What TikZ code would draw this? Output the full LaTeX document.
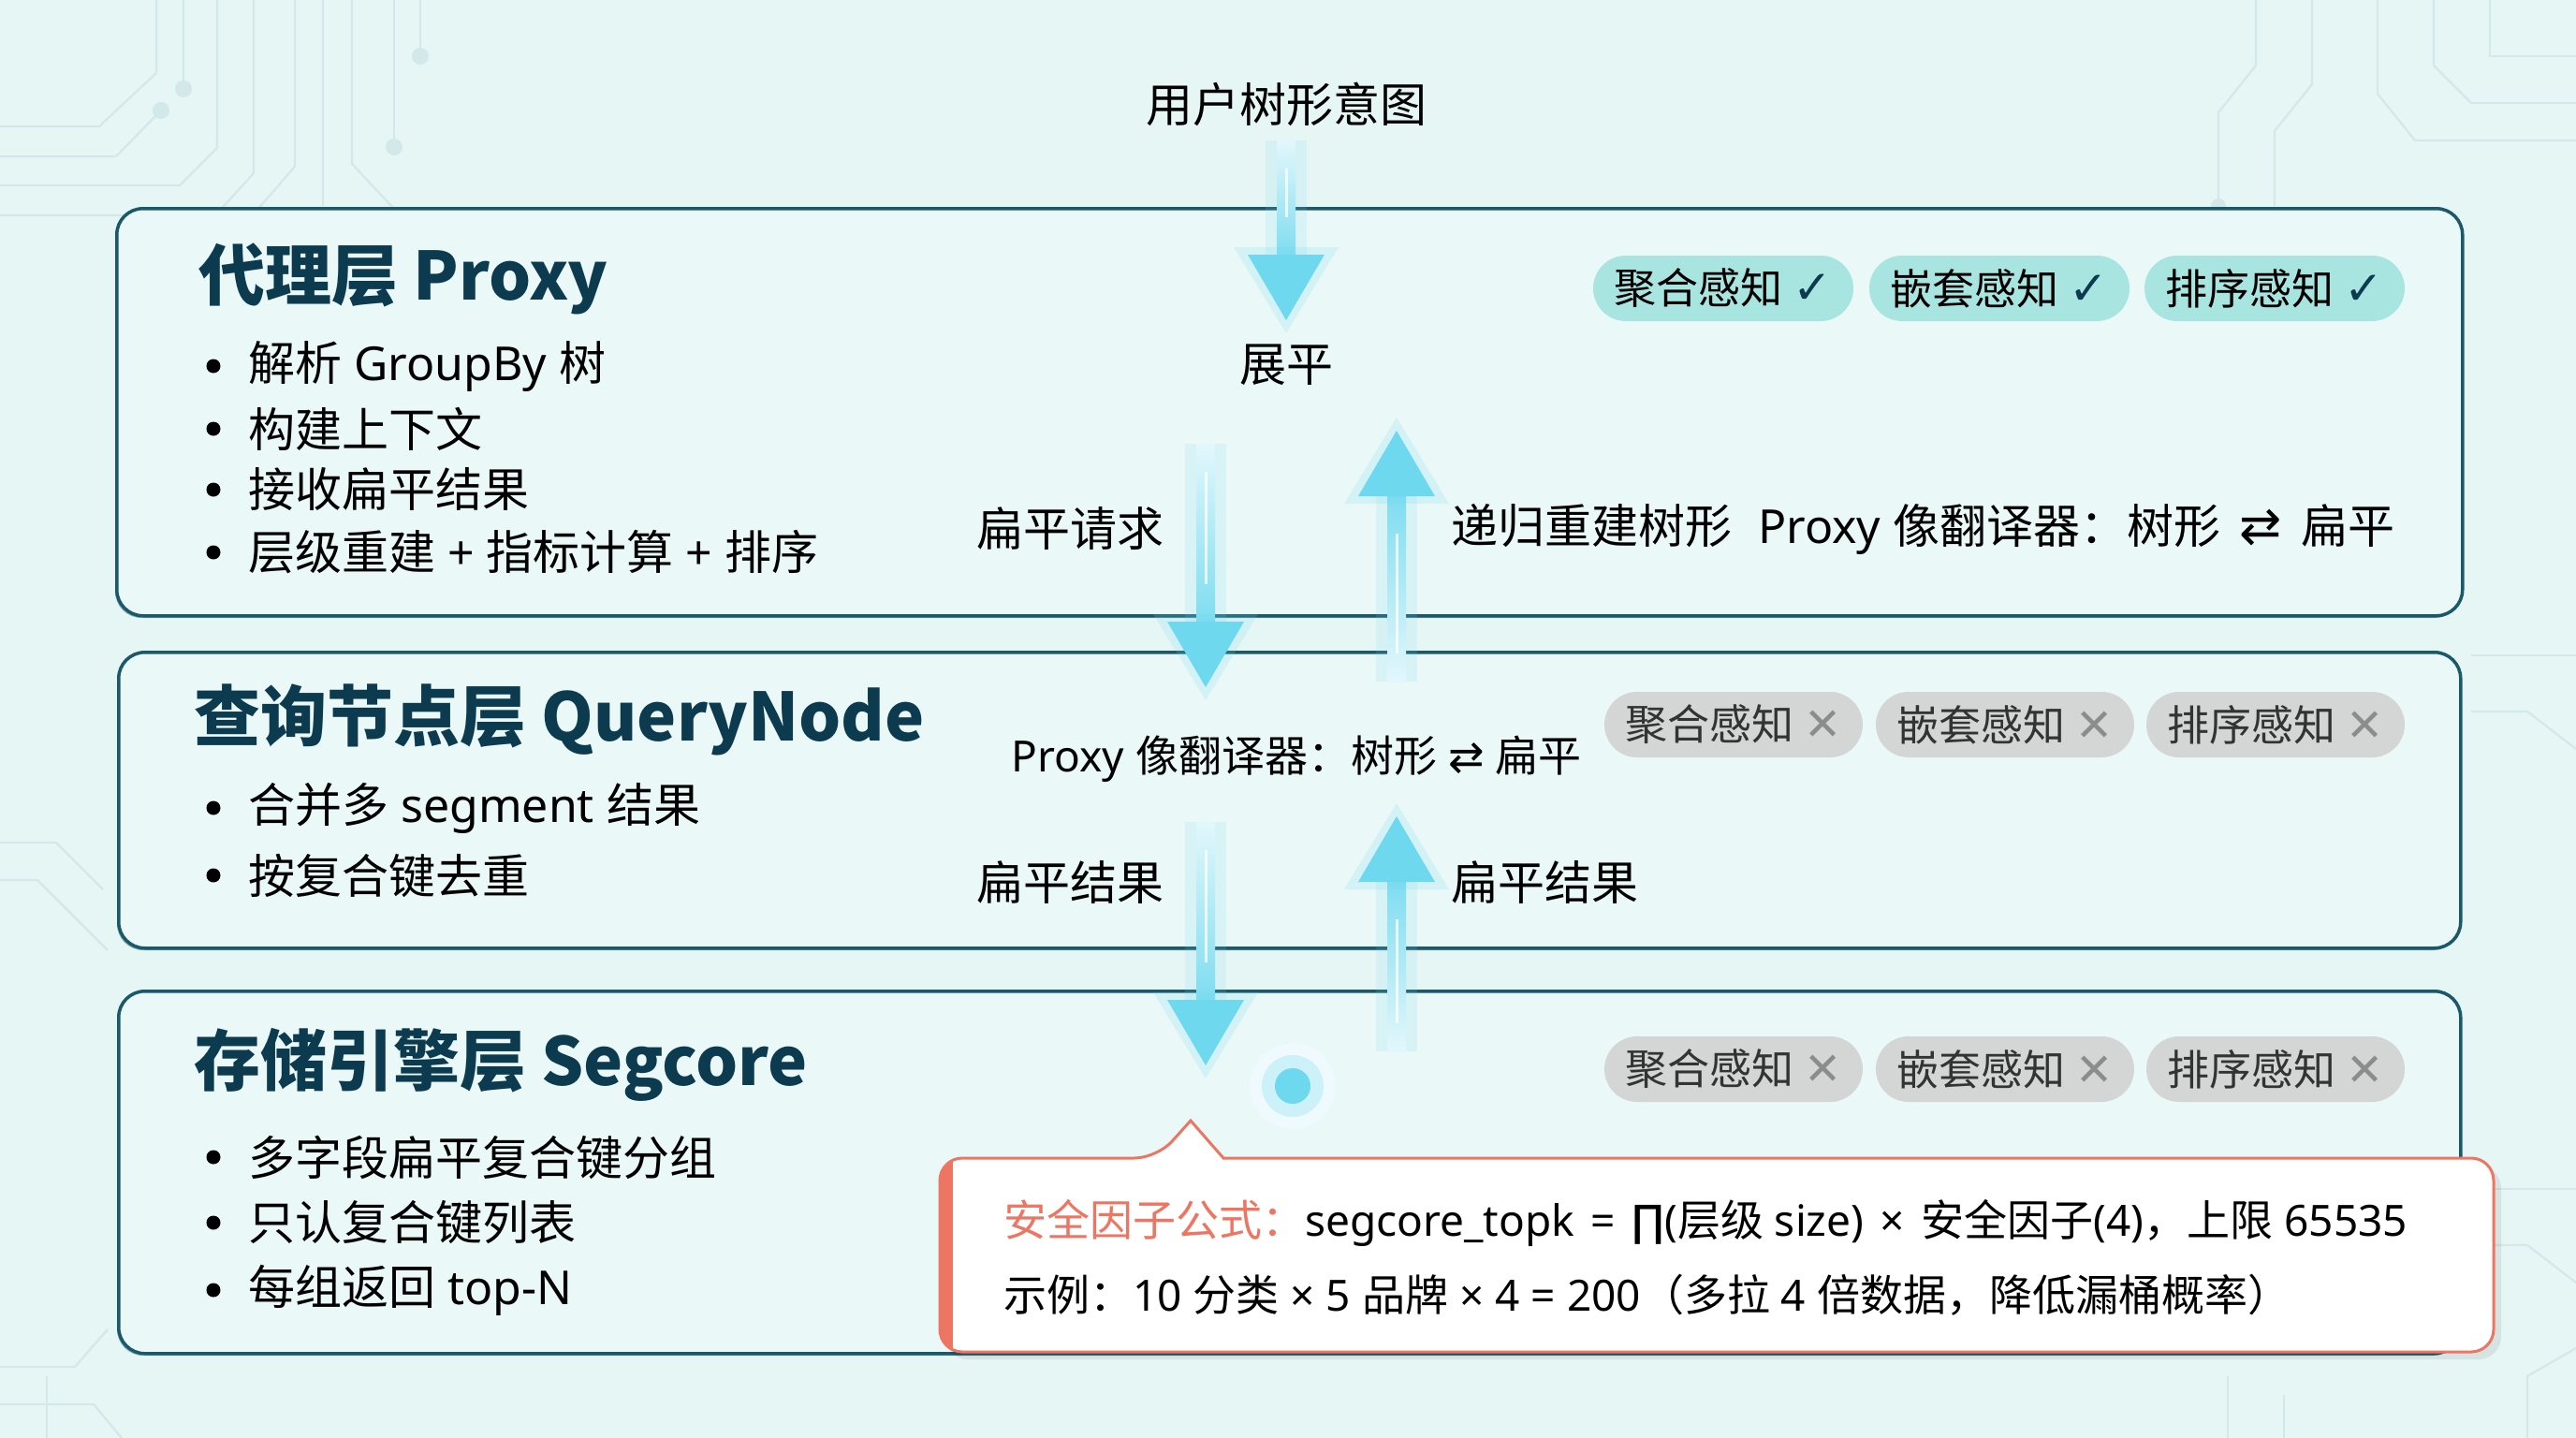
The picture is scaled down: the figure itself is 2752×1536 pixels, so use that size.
\documentclass[tikz,border=0pt]{standalone}
\usepackage{fontspec}
\setmainfont{Noto Sans}
\newfontfamily\latinf{Noto Sans}
\newfontfamily\cjkf{Noto Sans CJK SC}
\newfontfamily\symf{DejaVu Sans}
% automatic switch between Latin and CJK fonts
\newXeTeXintercharclass\cjkcls
\count255="4E00
\loop \XeTeXcharclass\count255=\cjkcls \ifnum\count255<"9FFF \advance\count255 by 1 \repeat
\count255="3000
\loop \XeTeXcharclass\count255=\cjkcls \ifnum\count255<"303F \advance\count255 by 1 \repeat
\count255="FF00
\loop \XeTeXcharclass\count255=\cjkcls \ifnum\count255<"FFEF \advance\count255 by 1 \repeat
\XeTeXinterchartoks 0 \cjkcls = {\cjkf}
\XeTeXinterchartoks 4095 \cjkcls = {\cjkf}
\XeTeXinterchartoks \cjkcls 0 = {\latinf}
\XeTeXinterchartoks \cjkcls 4095 = {\latinf}
\XeTeXinterchartokenstate=1
\usetikzlibrary{calc}
\definecolor{bg}{HTML}{E6F6F5}
\definecolor{boxfill}{HTML}{EAF8F8}
\definecolor{boxline}{HTML}{1B5869}
\definecolor{navy}{HTML}{0C3A4E}
\definecolor{pillg}{HTML}{A8E5E1}
\definecolor{pillx}{HTML}{D3D6D5}
\definecolor{coral}{HTML}{EE7562}
\definecolor{arrowc}{HTML}{6ED8EE}
\definecolor{circ}{HTML}{D3E8E8}
\newcommand\flowdn[2]{%
  \fill[arrowc,opacity=0.14] ($(#1)+(-22,0)$) rectangle ($(#2)+(22,-60)$);
  \shade[top color=arrowc!20, bottom color=arrowc!90] ($(#1)+(-10,0)$) rectangle ($(#2)+(10,-66)$);
  \fill[white,opacity=0.75] ($(#1)+(-1.5,30)$) rectangle ($(#2)+(1.5,-110)$);
  \fill[arrowc,opacity=0.18] ($(#2)+(-56,-78)$) -- ($(#2)+(56,-78)$) -- ($(#2)+(0,14)$) -- cycle;
  \fill[arrowc] ($(#2)+(-41,-70)$) -- ($(#2)+(41,-70)$) -- (#2) -- cycle;
}
\newcommand\flowup[2]{%
  \fill[arrowc,opacity=0.14] ($(#1)+(-22,0)$) rectangle ($(#2)+(22,60)$);
  \shade[bottom color=arrowc!20, top color=arrowc!90] ($(#1)+(-10,0)$) rectangle ($(#2)+(10,66)$);
  \fill[white,opacity=0.75] ($(#1)+(-1.5,-30)$) rectangle ($(#2)+(1.5,110)$);
  \fill[arrowc,opacity=0.18] ($(#2)+(-56,78)$) -- ($(#2)+(56,78)$) -- ($(#2)+(0,-14)$) -- cycle;
  \fill[arrowc] ($(#2)+(-41,70)$) -- ($(#2)+(41,70)$) -- (#2) -- cycle;
}
\begin{document}
\begin{tikzpicture}[x=1pt,y=-1pt,
  layer/.style={draw=boxline, line width=3.5pt, fill=boxfill, rounded corners=28pt, inner sep=0pt},
  shadowbox/.style={fill=boxline, opacity=0.45, rounded corners=28pt},
  ttl/.style={anchor=west, inner sep=0pt, text=navy, font={\fontsize{71}{82}\selectfont\bfseries\let\latinf\cjkf\cjkf}},
  item/.style={anchor=west, inner sep=0pt, text=black, font=\fontsize{50}{60}\selectfont},
  lbl/.style={inner sep=0pt, text=black, font=\fontsize{50}{60}\selectfont},
  lbls/.style={inner sep=0pt, text=black, font=\fontsize{46}{56}\selectfont},
  bul/.style={fill=black},
  pillok/.style={fill=pillg, rounded corners=35pt, minimum width=278pt, minimum height=70pt, inner sep=0pt, text=black, font=\fontsize{45}{52}\selectfont},
  pillno/.style={fill=pillx, rounded corners=35pt, minimum width=276pt, minimum height=70pt, inner sep=0pt, text=black!80, font=\fontsize{45}{52}\selectfont},
  calltxt/.style={anchor=west, inner sep=0pt, text=black, font=\fontsize{46}{56}\selectfont},
  trace/.style={draw=circ, line width=2.2pt},
  pad/.style={fill=circ}
]
% background
\fill[bg] (0,0) rectangle (2752,1536);
\useasboundingbox (0,0) rectangle (2752,1536);

% circuit traces (top left)
\draw[trace] (0,135) -- (106,135) -- (167,78) -- (167,0);
\draw[trace] (0,167) -- (124,167) -- (172,118); \fill[pad] (172,118) circle (9);
\draw[trace] (196,95) -- (196,0); \fill[pad] (196,95) circle (9);
\draw[trace] (0,198) -- (192,198) -- (232,158) -- (232,0);
\draw[trace] (0,230) -- (230,230) -- (271,185) -- (271,0);
\draw[trace] (315,0) -- (315,178) -- (268,232);
\draw[trace] (345,0) -- (345,220);
\draw[trace] (376,0) -- (376,175) -- (420,222);
\draw[trace] (421,157) -- (421,0); \fill[pad] (421,157) circle (9);
\draw[trace] (449,60) -- (449,0); \fill[pad] (449,60) circle (9);
% left side
\draw[trace] (0,900) -- (60,900) -- (110,950);
\draw[trace] (0,940) -- (40,940) -- (115,1015);
\draw[trace] (0,1460) -- (80,1460) -- (115,1420);
\draw[trace] (0,1500) -- (100,1500) -- (130,1536);
\draw[trace] (50,1536) -- (50,1470);
% right side
\draw[trace] (2410,0) -- (2410,70) -- (2370,120) -- (2370,220);
\draw[trace] (2470,0) -- (2470,90) -- (2430,140) -- (2430,220);
\draw[trace] (2540,0) -- (2540,100) -- (2580,150) -- (2752,150);
\draw[trace] (2600,0) -- (2600,70) -- (2640,110) -- (2752,110);
\draw[trace] (2660,0) -- (2660,60) -- (2752,60);
\fill[pad] (2370,220) circle (8);
\draw[trace] (2640,700) -- (2752,700);
\draw[trace] (2640,760) -- (2700,760) -- (2752,800);
\draw[trace] (2664,1270) -- (2752,1270);
\draw[trace] (2664,1330) -- (2700,1330) -- (2752,1370);
\draw[trace] (2700,1536) -- (2700,1470) -- (2752,1440);
\draw[trace] (2380,1536) -- (2380,1470);
\draw[trace] (2440,1536) -- (2440,1490);

% layer boxes (with bottom shadow)
\fill[shadowbox] (123,226) rectangle (2629,660);
\node[layer, minimum width=2506pt, minimum height=435pt, anchor=north west] (L1) at (123,221) {};
\fill[shadowbox] (125,700) rectangle (2627,1015);
\node[layer, minimum width=2502pt, minimum height=316pt, anchor=north west] (L2) at (125,695) {};
\fill[shadowbox] (125,1062) rectangle (2627,1448);
\node[layer, minimum width=2502pt, minimum height=387pt, anchor=north west] (L3) at (125,1057) {};

% layer 1 content
\node[ttl] (t1) at (212,298) {代理层 Proxy};
\node[item] (b11) at (265,391) {解析 GroupBy 树};
\node[item] (b12) at (265,458) {构建上下文};
\node[item] (b13) at (265,523) {接收扁平结果};
\node[item] (b14) at (265,590) {层级重建 + 指标计算 + 排序};
\foreach \yy in {391,458,523,590} \fill[bul] (228,\yy) circle (7.5);

% layer 2 content
\node[ttl] (t2) at (207,769) {查询节点层 QueryNode};
\node[item] (b21) at (265,863) {合并多 segment 结果};
\node[item] (b22) at (265,935) {按复合键去重};
\foreach \yy in {863,935} \fill[bul] (228,\yy) circle (7.5);

% layer 3 content
\node[ttl] (t3) at (207,1137) {存储引擎层 Segcore};
\node[item] (b31) at (265,1236) {多字段扁平复合键分组};
\node[item] (b32) at (265,1306) {只认复合键列表};
\node[item] (b33) at (265,1378) {每组返回 top-N};
\foreach \yy in {1236,1306,1378} \fill[bul] (228,\yy) circle (7.5);

% pills
\node[pillok] (p11) at (1841,308) {聚合感知 {\color{navy}\symf\fontsize{50}{50}\selectfont ✓}};
\node[pillok] (p12) at (2136,308) {嵌套感知 {\color{navy}\symf\fontsize{50}{50}\selectfont ✓}};
\node[pillok] (p13) at (2430,308) {排序感知 {\color{navy}\symf\fontsize{50}{50}\selectfont ✓}};
\node[pillno] (p21) at (1852,774) {聚合感知 {\color{black!45}\symf\fontsize{48}{48}\selectfont ✕}};
\node[pillno] (p22) at (2142,774) {嵌套感知 {\color{black!45}\symf\fontsize{48}{48}\selectfont ✕}};
\node[pillno] (p23) at (2431,774) {排序感知 {\color{black!45}\symf\fontsize{48}{48}\selectfont ✕}};
\node[pillno] (p31) at (1852,1142) {聚合感知 {\color{black!45}\symf\fontsize{48}{48}\selectfont ✕}};
\node[pillno] (p32) at (2142,1142) {嵌套感知 {\color{black!45}\symf\fontsize{48}{48}\selectfont ✕}};
\node[pillno] (p33) at (2431,1142) {排序感知 {\color{black!45}\symf\fontsize{48}{48}\selectfont ✕}};

% flow arrows
\coordinate (a1s) at (1374,150);  \coordinate (a1t) at (1374,342);
\coordinate (a2s) at (1288,474);  \coordinate (a2t) at (1288,734);
\coordinate (a3s) at (1492,728);  \coordinate (a3t) at (1492,460);
\coordinate (a4s) at (1288,878);  \coordinate (a4t) at (1288,1138);
\coordinate (a5s) at (1492,1123); \coordinate (a5t) at (1492,872);
\flowdn{a1s}{a1t}
\flowdn{a2s}{a2t}
\flowup{a3s}{a3t}
\flowdn{a4s}{a4t}
\flowup{a5s}{a5t}

% glowing dot
\coordinate (dot) at (1381,1160);
\fill[arrowc!12] (dot) circle (46);
\fill[arrowc!35] (dot) circle (33);
\fill[arrowc] (dot) circle (19);

% arrow labels
\node[lbl] (intent) at (1374,111) {用户树形意图};
\node[lbl] (flat) at (1374,390) {展平};
\node[lbl] (req) at (1143,565) {扁平请求};
\node[lbl, anchor=west] (rebuild) at (1550,565) {递归重建树形\hspace{0.3em} Proxy 像翻译器：树形 \hspace{0.15em}{\symf\fontsize{54}{54}\selectfont ⇄}\hspace{0.15em} 扁平};
\node[lbls] (trans) at (1385,811) {Proxy 像翻译器：树形 {\symf ⇄} 扁平};
\node[lbl] (res1) at (1143,942) {扁平结果};
\node[lbl, anchor=west] (res2) at (1550,942) {扁平结果};

% callout
\fill[black, opacity=0.07, rounded corners=24pt] (1010,1245) rectangle (2672,1452);
\coordinate (ptip) at (1272,1197);
\path[fill=white, rounded corners=24pt] (1004,1444) -- (1004,1237) -- (1236,1237) [sharp corners] -- (ptip) -- (1307,1237) [rounded corners=24pt] -- (2664,1237) -- (2664,1444) -- cycle;
\begin{scope}
  \clip[rounded corners=24pt] (1004,1237) rectangle (2664,1444);
  \fill[coral] (1000,1230) rectangle (1018,1450);
\end{scope}
\draw[coral, line width=3pt, rounded corners=24pt] (1004,1444) -- (1004,1237) -- (1236,1237) [sharp corners] -- (ptip) -- (1307,1237) [rounded corners=24pt] -- (2664,1237) -- (2664,1444) -- cycle;
\node[calltxt] (c1) at (1072,1306) {{\color{coral}安全因子公式：}segcore\_topk\hspace{0.12em} = \hspace{0.12em}{\symf ∏}(层级 size)\hspace{0.12em} × \hspace{0.12em}安全因子(4)，上限 65535};
\node[calltxt] (c2) at (1072,1383) {示例：10 分类 × 5 品牌 × 4 = 200（多拉 4 倍数据，降低漏桶概率）};
\end{tikzpicture}
\end{document}
